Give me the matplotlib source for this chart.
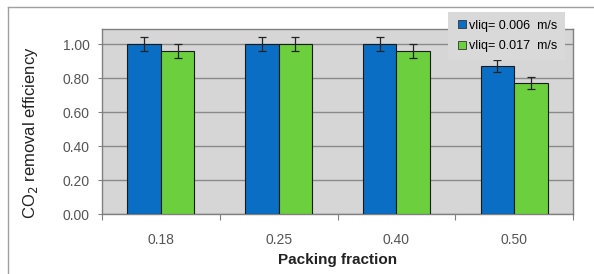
import numpy as np
import matplotlib.pyplot as plt
from matplotlib.lines import Line2D

# ----------------------------------------------------------
# DATA
# ----------------------------------------------------------

categories = ['0.18', '0.25', '0.40', '0.50']

eff_slow = [1.00, 1.00, 1.00, 0.87]
eff_fast = [0.96, 1.00, 0.96, 0.77]

err_slow = [0.04, 0.04, 0.04, 0.035]
err_fast = [0.04, 0.04, 0.04, 0.035]

label_slow = 'vliq= 0.006  m/s'
label_fast = 'vliq= 0.017  m/s'

# ----------------------------------------------------------
# FIGURE
# ----------------------------------------------------------

plt.rcParams['font.family'] = ['Liberation Sans', 'DejaVu Sans']

fig = plt.figure(figsize=(5.94, 2.74), dpi=100)
fig.patch.set_facecolor('white')

ax = fig.add_axes([102 / 594, 60 / 274, 471 / 594, 185 / 274])
ax.set_facecolor('#d6d6d6')

x = np.arange(len(categories))
w = 0.285

blue = '#0a6fc4'
green = '#6ccf3e'

ax.bar(x - w / 2, eff_slow, w, color=blue, edgecolor='#1a1a1a',
       linewidth=0.8, label=label_slow, zorder=3)
ax.bar(x + w / 2, eff_fast, w, color=green, edgecolor='#1a1a1a',
       linewidth=0.8, label=label_fast, zorder=3)

ax.errorbar(x - w / 2, eff_slow, yerr=err_slow, fmt='none',
            ecolor='#222222', elinewidth=0.9, capsize=3, capthick=0.9, zorder=4)
ax.errorbar(x + w / 2, eff_fast, yerr=err_fast, fmt='none',
            ecolor='#222222', elinewidth=0.9, capsize=3, capthick=0.9, zorder=4)

ax.set_xlim(-0.5, len(categories) - 0.5)
ax.set_ylim(0, 1.09)

ax.set_yticks(np.arange(0, 1.01, 0.2))
ax.set_yticklabels(['%.2f' % v for v in np.arange(0, 1.01, 0.2)])
ax.yaxis.grid(True, color='#8a8a8a', linewidth=1.0, zorder=0)
ax.set_axisbelow(True)

# ticks at category boundaries, labels at centres
ax.set_xticks(np.arange(-0.5, len(categories), 1.0))
ax.set_xticklabels([])
ax.set_xticks(x, minor=True)
ax.set_xticklabels(categories, minor=True)
ax.tick_params(axis='x', which='major', length=4, color='#808080')
ax.tick_params(axis='x', which='minor', length=0, pad=14,
               labelsize=10, labelcolor='#555555')
ax.tick_params(axis='y', length=3, color='#808080', pad=6,
               labelsize=10, labelcolor='#555555')

for s in ax.spines.values():
    s.set_color('#808080')
    s.set_linewidth(1.0)

ax.set_xlabel('Packing fraction', fontsize=11, fontweight='bold',
              color='#222222', labelpad=4)
ax.set_ylabel('CO$_2$ removal efficiency', fontsize=12,
              color='#222222')
ax.yaxis.set_label_coords(-0.132, 0.44)

# legend box in the top right
handles = [Line2D([], [], marker='s', linestyle='none', markersize=6,
                  markerfacecolor=blue, markeredgecolor='#333333',
                  markeredgewidth=0.6),
           Line2D([], [], marker='s', linestyle='none', markersize=6,
                  markerfacecolor=green, markeredgecolor='#333333',
                  markeredgewidth=0.6)]
leg = fig.legend(handles, [label_slow, label_fast],
                 loc='upper right', bbox_to_anchor=(565 / 594, 1 - 12 / 274),
                 fontsize=9, frameon=True, fancybox=False,
                 facecolor='#d9d9d9', edgecolor='none', framealpha=1,
                 handletextpad=0.1, handlelength=1.0, labelspacing=0.7,
                 borderpad=0.6, borderaxespad=0)
leg.set_zorder(5)

# outer chart frame
fig.add_artist(Line2D([8 / 594, 8 / 594], [0, 1 - 7 / 274],
                      color='#a0a0a0', linewidth=1.0))
fig.add_artist(Line2D([8 / 594, 1], [1 - 7 / 274, 1 - 7 / 274],
                      color='#a0a0a0', linewidth=1.0))

plt.savefig('out.png', dpi=100)
